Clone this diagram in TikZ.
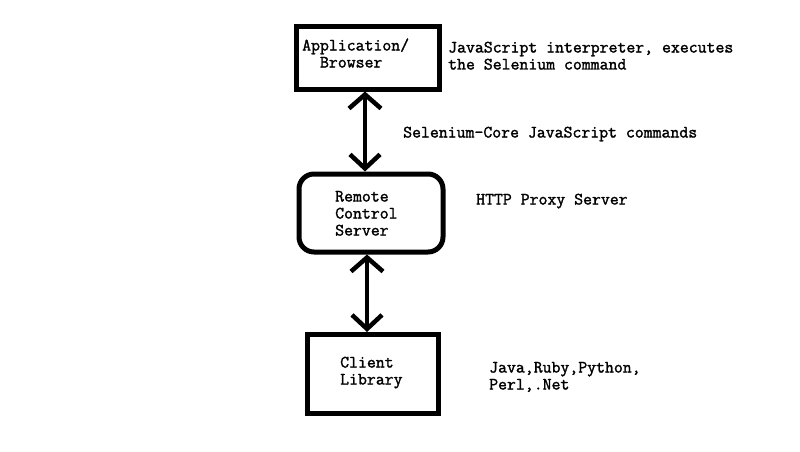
\documentclass[tikz,border=0pt]{standalone}
\usepackage{fontspec}
\setmonofont{Latin Modern Mono}[AutoFakeBold=1.6]
\usetikzlibrary{arrows.meta}
\tikzset{
  boxline/.style={draw=black, line width=5pt},
  conn/.style={line width=4.5pt, {Straight Barb[length=14pt,width=32pt,line width=4.5pt]}-{Straight Barb[length=14pt,width=30pt,line width=4.5pt]}},
  txt/.style={inner sep=0pt, anchor=base west, align=left, font=\ttfamily\bfseries\fontsize{17.3}{17}\selectfont},
}
\begin{document}
\begin{tikzpicture}[x=1pt,y=-1pt]
\useasboundingbox[fill=white] (0,0) rectangle (800,452);
\draw[boxline] (296,27) rectangle (439,89);
\draw[boxline, rounded corners=15pt] (299,174) rectangle (443,252);
\draw[boxline] (307,334.5) rectangle (438,413);
\coordinate (b1s) at (365,91.5);
\coordinate (b2n) at (365,171.5);
\coordinate (b2s) at (367,254.5);
\coordinate (b3n) at (367,332);
\draw[conn] (b1s) -- (b2n);
\draw[conn] (b2s) -- (b3n);
\node[txt] (t1) at (302,67.5) {Application/\\\phantom{Ap}Browser};
\node[txt] (t2) at (448,69.5) {JavaScript interpreter, executes\\the Selenium command};
\node[txt] (t3) at (403,137.5) {Selenium-Core JavaScript commands};
\node[txt] (t4) at (335,235.5) {Remote\\Control\\Server};
\node[txt] (t5) at (476,204.5) {HTTP Proxy Server};
\node[txt] (t6) at (340,384.5) {Client\\Library};
\node[txt] (t7) at (489,389.5) {Java,Ruby,Python,\\Perl,.Net};
\end{tikzpicture}
\end{document}
